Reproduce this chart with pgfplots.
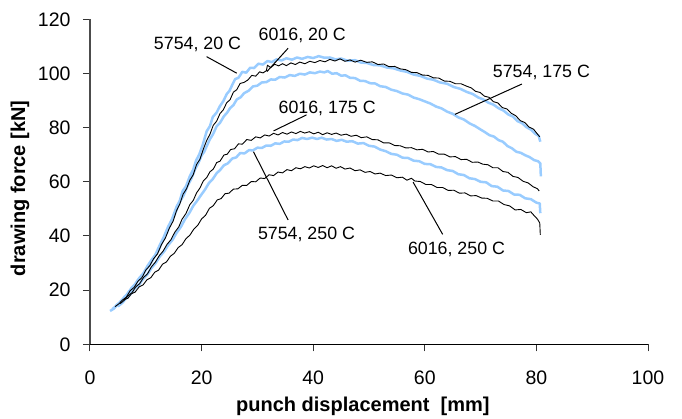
\documentclass[border=0pt]{standalone}
\usepackage{fontspec}
\setmainfont{Liberation Sans}
\usepackage{pgfplots}
\pgfplotsset{compat=1.18}
\definecolor{lblue}{RGB}{153,204,255}
\newcommand{\tickfont}{\fontsize{19.5}{23}\selectfont}
\newcommand{\annfont}{\fontsize{17.8}{21}\selectfont}
\newcommand{\labfont}{\bfseries\fontsize{20}{24}\selectfont}
\begin{document}
\begin{tikzpicture}
\useasboundingbox (-90pt,-73.7pt) rectangle (592pt,344.3pt);
\begin{axis}[
  at={(0pt,0pt)}, anchor=south west,
  scale only axis, width=558pt, height=325pt,
  xmin=0, xmax=100, ymin=0, ymax=120,
  axis lines=left,
  axis line style={-},
  x axis line style={line width=1.2pt, black},
  y axis line style={line width=1.2pt, black!70},
  xtick={0,20,...,100}, ytick={0,20,...,120},
  tick align=outside, major tick length=7pt,
  tick style={line width=1pt, black!80},
  /pgf/number format/assume math mode=true,
  tick label style={font=\tickfont},
  xticklabel style={yshift=-16pt},
  yticklabel style={xshift=-9pt},
  clip=false,
  xlabel={punch displacement\ \ [mm]},
  ylabel={drawing force [kN]},
  xlabel style={at={(axis description cs:0.489,-0.191)}, anchor=center, font=\labfont},
  ylabel style={at={(axis description cs:-0.1254,0.48)}, anchor=center, font=\labfont},
]
% 5754, 20 C
\addplot[lblue, line width=2.5pt, line join=round] coordinates {
(3.6,12.3)(4.3,13.2)(4.8,14.6)(5.5,15.6)(6.2,17.6)(6.8,18.6)(7.5,21.0)(8.2,22.4)(8.8,24.4)(9.6,26.3)
(10.3,28.9)(11.0,31.1)(11.7,33.0)(12.5,36.6)(13.2,39.5)(14.0,43.4)(14.7,46.2)(15.5,50.7)(16.1,53.1)(16.6,56.6)
(17.2,58.3)(17.9,62.1)(18.5,64.5)(19.0,67.8)(19.6,70.2)(20.2,73.6)(20.9,78.6)(21.5,80.6)(22.0,83.9)(22.7,85.6)
(23.3,88.0)(23.9,89.8)(24.5,92.4)(25.0,93.6)(25.5,95.8)(26.0,97.9)(26.6,98.4)(27.3,100.6)(28.0,100.3)(28.7,102.1)
(29.4,102.0)(30.2,103.6)(31.0,103.3)(31.8,104.6)(32.6,104.2)(33.4,105.2)(34.3,104.8)(35.2,105.6)(36.2,105.1)(37.1,105.9)
(38.0,105.4)(39.0,106.1)(40.0,105.7)(41.0,106.4)(42.0,105.8)(43.0,105.9)(44.0,105.2)(45.0,105.5)(46.2,104.7)(47.5,104.9)
(48.6,104.0)(49.6,103.9)(50.8,103.1)(52.0,103.0)(53.2,102.2)(54.4,101.9)(55.6,101.1)(56.8,100.6)(58.0,99.6)(59.2,99.1)
(60.4,98.1)(61.5,97.7)(62.7,96.7)(64.0,96.2)(65.2,95.0)(66.4,94.3)(67.5,93.2)(68.6,92.4)(69.6,91.1)(70.4,90.5)
(71.4,89.2)(72.3,88.5)(73.2,87.2)(74.1,86.3)(75.0,84.8)(75.8,84.1)(76.6,82.4)(77.4,81.7)(78.2,80.2)(79.0,79.3)
(79.8,77.7)(80.4,77.0)(80.7,74.8)};
% 5754, 175 C
\addplot[lblue, line width=2.5pt, line join=round] coordinates {
(4.0,13.0)(4.8,14.3)(5.5,15.9)(6.3,17.4)(7.0,19.6)(7.8,21.2)(8.5,23.5)(9.3,25.1)(10.0,27.5)(10.8,29.6)
(11.5,32.2)(12.3,34.8)(13.0,38.2)(13.8,41.3)(14.5,45.1)(15.2,48.0)(16.0,52.2)(16.8,55.1)(17.5,58.6)(18.2,61.3)
(18.8,64.5)(19.4,66.8)(20.0,69.7)(20.5,71.2)(20.9,73.1)(21.5,75.8)(22.0,77.4)(22.7,80.5)(23.3,81.8)(24.0,84.2)
(24.6,85.6)(25.1,87.2)(25.7,88.3)(26.3,90.4)(27.0,91.2)(27.6,92.7)(28.4,93.6)(29.2,95.2)(30.0,95.5)(30.8,96.7)
(31.6,96.8)(32.4,97.8)(33.2,97.7)(34.0,98.7)(34.9,98.5)(35.8,99.4)(36.7,99.1)(37.6,99.9)(38.5,99.6)(39.4,100.4)
(40.3,100.1)(41.2,100.7)(42.0,100.4)(42.6,100.9)(43.4,99.9)(44.2,100.1)(45.0,99.2)(45.8,99.3)(46.6,98.4)(47.5,98.3)
(48.4,97.3)(49.3,97.2)(50.2,96.4)(51.1,96.3)(52.0,95.3)(53.0,95.0)(54.0,94.0)(55.0,93.5)(56.0,92.6)(57.0,92.2)
(58.0,91.1)(59.0,90.5)(60.0,89.7)(61.0,88.9)(62.0,87.8)(63.0,87.1)(64.0,85.9)(65.0,85.1)(66.0,83.8)(67.0,83.0)
(68.0,81.6)(69.0,80.6)(70.0,79.3)(70.8,78.3)(71.6,77.2)(72.4,76.7)(73.2,75.4)(74.0,74.8)(74.8,73.2)(75.6,72.4)
(76.4,71.1)(77.2,70.7)(78.0,69.8)(78.8,69.1)(79.6,68.0)(80.3,67.6)(80.7,66.8)(80.8,62.0)};
% 5754, 250 C
\addplot[lblue, line width=2.5pt, line join=round] coordinates {
(5.0,14.0)(5.8,15.3)(6.5,17.1)(7.3,18.6)(8.0,20.6)(8.8,22.0)(9.5,24.1)(10.3,25.8)(11.0,28.1)(11.8,30.1)
(12.5,32.4)(13.3,34.3)(14.0,36.6)(14.8,38.6)(15.5,41.1)(16.3,43.4)(17.0,46.1)(17.8,48.5)(18.5,51.1)(19.2,53.0)
(19.9,55.1)(20.6,57.1)(21.3,59.5)(22.0,61.0)(22.7,63.2)(23.3,64.3)(24.0,66.1)(24.7,66.8)(25.5,68.6)(26.2,69.0)
(26.9,70.6)(27.7,70.5)(28.5,71.7)(29.2,71.6)(30.0,72.6)(30.8,72.5)(31.6,73.4)(32.4,73.3)(33.2,74.2)(34.0,74.0)
(34.8,74.9)(35.6,74.8)(36.4,75.6)(37.2,75.4)(38.0,76.2)(38.9,75.8)(39.8,76.3)(40.7,75.8)(41.5,76.3)(42.4,75.6)
(43.3,75.8)(44.2,75.1)(45.1,75.5)(46.0,74.8)(47.0,75.0)(48.0,74.1)(49.0,74.3)(50.0,73.3)(51.0,73.0)(52.0,71.9)
(53.0,71.3)(54.0,70.3)(55.0,70.0)(56.0,68.9)(57.0,68.8)(58.0,67.8)(59.0,67.6)(60.0,66.6)(61.0,66.5)(62.0,65.5)
(63.0,65.3)(64.0,64.3)(65.0,64.0)(66.0,62.8)(67.0,62.5)(68.0,61.3)(69.0,61.0)(70.0,60.0)(71.0,59.8)(72.0,58.4)
(73.0,58.2)(74.0,56.8)(75.0,56.6)(76.0,55.3)(77.0,55.2)(78.0,53.9)(79.0,53.6)(80.0,52.3)(80.6,52.0)(80.7,48.4)};
% 6016, 20 C
\addplot[black, line width=0.9pt] coordinates {
(4.5,13.9)(5.2,15.0)(5.8,16.3)(6.5,17.4)(7.2,19.8)(7.9,21.0)(8.6,23.3)(9.3,24.6)(10.0,27.4)(10.7,29.0)
(11.4,31.6)(12.1,33.4)(12.8,36.8)(13.5,39.2)(14.2,42.8)(14.9,45.5)(15.5,49.3)(16.1,51.8)(16.7,55.5)(17.3,57.4)
(17.9,60.6)(18.5,62.6)(19.1,66.4)(19.7,68.3)(20.3,72.0)(20.9,75.2)(21.5,77.6)(22.1,80.9)(22.7,82.4)(23.3,85.2)
(23.9,86.6)(24.5,89.2)(25.1,90.3)(25.7,93.1)(26.3,94.0)(26.9,96.3)(27.6,96.7)(28.3,97.6)(29.0,99.3)(29.7,99.0)
(30.4,100.6)(31.0,100.2)(31.6,101.0)(31.8,103.0)(32.4,102.2)(33.1,103.4)(33.8,102.8)(34.5,103.6)(35.2,102.9)(36.0,103.9)
(36.8,103.3)(37.6,104.2)(38.5,103.6)(39.4,104.5)(40.3,104.0)(41.2,104.8)(42.1,104.3)(43.0,105.2)(43.9,104.6)(44.8,105.4)
(45.7,104.5)(46.6,105.0)(47.5,104.2)(48.5,104.9)(49.6,104.1)(50.6,104.3)(51.6,103.3)(52.6,103.5)(53.6,102.5)(54.6,102.6)
(55.6,101.7)(56.6,101.4)(57.6,100.4)(58.6,100.3)(59.6,99.4)(60.6,99.3)(61.5,98.4)(62.5,98.3)(63.5,97.2)(64.5,97.1)
(65.5,96.2)(66.5,96.2)(67.5,95.3)(68.3,94.7)(69.1,93.4)(69.9,93.0)(70.7,91.6)(71.5,91.2)(72.3,89.6)(73.1,89.1)
(73.9,87.4)(74.7,86.9)(75.5,85.3)(76.3,84.4)(77.1,82.6)(77.9,81.9)(78.7,80.2)(79.5,79.4)(80.2,77.6)(80.6,76.6)};
% 6016, 175 C
\addplot[black, line width=0.9pt] coordinates {
(5.4,15.0)(6.1,16.2)(6.8,17.9)(7.5,19.0)(8.2,21.2)(8.9,22.4)(9.6,24.7)(10.3,26.0)(11.0,28.6)(11.7,30.3)
(12.4,32.7)(13.1,34.4)(13.8,36.9)(14.5,38.6)(15.2,41.4)(15.9,43.3)(16.5,46.2)(17.2,48.3)(17.9,51.6)(18.5,53.1)
(19.1,55.9)(19.7,57.7)(20.3,60.3)(20.9,61.5)(21.5,63.7)(22.1,64.7)(22.7,67.1)(23.3,67.6)(24.0,69.9)(24.6,70.2)
(25.2,71.9)(25.9,72.2)(26.6,74.0)(27.3,73.9)(28.1,75.6)(28.9,75.3)(29.7,76.6)(30.5,76.2)(31.3,77.3)(32.1,76.9)
(32.9,77.9)(33.7,77.3)(34.5,78.2)(35.3,77.6)(36.1,78.4)(36.9,77.8)(37.7,78.6)(38.5,78.0)(39.3,78.5)(40.1,77.7)
(40.9,78.3)(41.7,77.4)(42.5,78.1)(43.3,77.5)(44.1,78.0)(45.0,77.2)(45.9,77.6)(46.8,76.8)(47.7,77.2)(48.6,76.3)
(49.6,76.6)(50.6,75.6)(51.6,75.5)(52.6,74.4)(53.6,74.4)(54.6,73.4)(55.6,73.3)(56.6,72.5)(57.6,72.6)(58.6,71.8)
(59.6,72.0)(60.6,71.0)(61.5,71.2)(62.5,70.2)(63.5,70.2)(64.5,69.2)(65.5,69.3)(66.5,68.2)(67.5,68.3)(68.5,67.2)
(69.5,67.3)(70.4,66.5)(71.3,66.3)(72.2,65.2)(73.1,65.2)(74.0,63.8)(74.9,63.5)(75.8,62.0)(76.7,61.6)(77.6,60.2)
(78.5,59.6)(79.4,58.2)(80.2,57.4)(80.5,56.6)};
% 6016, 250 C
\addplot[black, line width=0.9pt] coordinates {
(6.0,16.4)(6.8,17.0)(7.4,18.6)(8.1,19.3)(8.8,21.2)(9.5,21.9)(10.2,23.8)(10.9,24.6)(11.6,26.6)(12.3,27.4)
(13.0,29.6)(13.7,30.4)(14.4,32.5)(15.1,33.6)(15.8,35.7)(16.5,36.8)(17.2,39.0)(17.9,40.3)(18.6,42.5)(19.3,43.9)
(20.0,46.3)(20.7,47.6)(21.4,50.2)(22.1,51.2)(22.8,53.3)(23.5,53.8)(24.2,55.6)(24.9,55.8)(25.7,57.3)(26.5,57.4)
(27.3,58.7)(28.1,58.7)(28.9,60.1)(29.7,60.0)(30.5,61.4)(31.3,61.2)(32.1,62.6)(32.9,62.3)(33.7,63.6)(34.5,63.3)
(35.3,64.5)(36.1,64.1)(36.9,65.2)(37.7,64.8)(38.5,65.6)(39.3,65.1)(40.1,65.9)(40.9,65.3)(41.7,66.0)(42.5,65.2)
(43.3,65.9)(44.1,65.0)(44.9,65.6)(45.7,64.7)(46.6,65.1)(47.5,64.1)(48.4,64.4)(49.3,63.5)(50.2,63.8)(51.1,62.9)
(52.0,63.2)(53.0,62.3)(54.0,62.5)(55.0,61.5)(56.0,61.7)(56.8,60.6)(57.6,61.3)(58.2,60.3)(59.2,60.1)(60.2,59.0)
(61.2,59.0)(62.2,57.9)(63.2,57.9)(64.2,56.8)(65.2,56.9)(66.2,55.8)(67.2,55.9)(68.2,54.8)(69.2,54.9)(70.2,54.0)
(71.2,53.9)(72.2,52.9)(73.2,52.9)(74.2,51.6)(75.2,51.1)(76.2,49.6)(77.2,49.8)(78.2,48.6)(79.0,48.9)(79.6,47.5)
(80.2,46.2)(80.6,44.8)(80.7,40.4)};
% annotations
\node[font=\annfont, anchor=base] at (axis cs:19.27,108.7) {5754, 20 C};
\node[font=\annfont, anchor=base] at (axis cs:38.03,112.1) {6016, 20 C};
\node[font=\annfont, anchor=base] at (axis cs:42.5,85.3) {6016, 175 C};
\node[font=\annfont, anchor=base] at (axis cs:80.9,98.6) {5754, 175 C};
\node[font=\annfont, anchor=base] at (axis cs:38.8,38.8) {5754, 250 C};
\node[font=\annfont, anchor=base] at (axis cs:65.68,33.2) {6016, 250 C};
\draw[line width=1pt] (axis cs:20.9,106.2) -- (axis cs:26.3,100.1);
\draw[line width=1pt] (axis cs:35.5,109.3) -- (axis cs:31.7,100.7);
\draw[line width=1pt] (axis cs:38.8,84.7) -- (axis cs:32.9,78.8);
\draw[line width=1pt] (axis cs:77.4,96.1) -- (axis cs:65.4,84.9);
\draw[line width=1pt] (axis cs:35.5,45.9) -- (axis cs:29.3,71.1);
\draw[line width=1pt] (axis cs:63.2,40.6) -- (axis cs:57.9,59.9);
\end{axis}
\end{tikzpicture}
\end{document}
